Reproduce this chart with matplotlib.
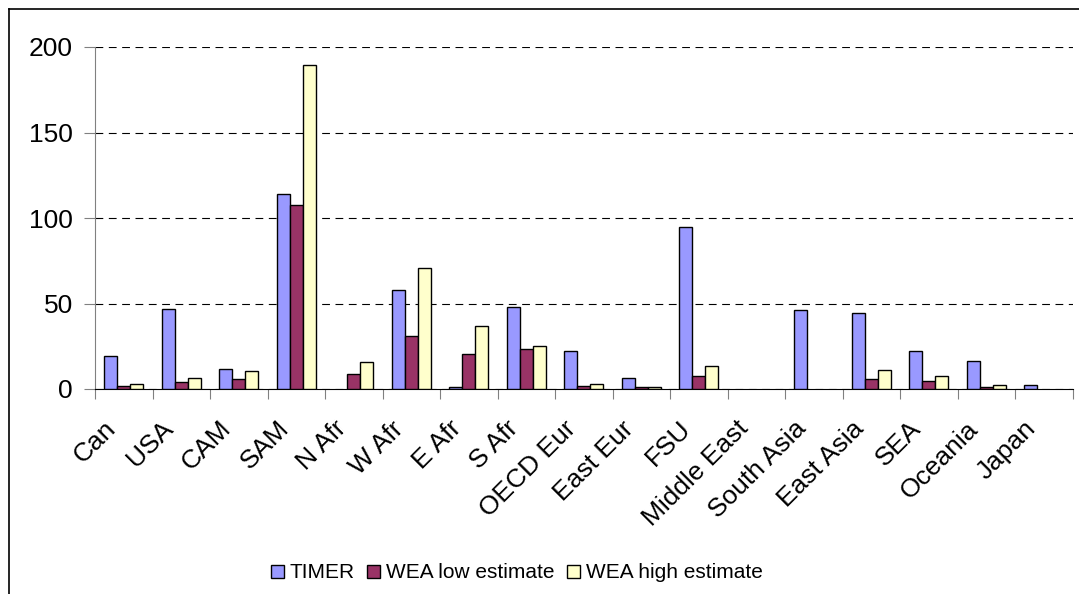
import matplotlib.pyplot as plt
import matplotlib.transforms as mtransforms
import numpy as np
from matplotlib.lines import Line2D

regions = ["Can", "USA", "CAM", "SAM", "N Afr", "W Afr", "E Afr", "S Afr",
           "OECD Eur", "East Eur", "FSU", "Middle East", "South Asia",
           "East Asia", "SEA", "Oceania", "Japan"]
timer = [19.2, 47, 11.5, 114, 0, 57.8, 1, 48.2, 22.3, 6.7, 94.7, 0, 46.3, 44.5, 22.3, 16.5, 2.1]
wea_low = [2, 4, 5.9, 107.5, 8.6, 31, 20.4, 23.1, 1.8, 1, 7.6, 0, 0, 5.9, 4.9, 1, 0]
wea_high = [3, 6.6, 10.8, 189.5, 15.5, 70.8, 36.7, 25.1, 2.9, 1, 13.5, 0, 0, 11, 7.6, 2.1, 0]

plt.rcParams['font.family'] = ['Liberation Sans', 'DejaVu Sans']

fig = plt.figure(figsize=(10.79, 5.94), dpi=100)
ax = fig.add_axes([95 / 1079, 1 - 389 / 594, (1072.5 - 95) / 1079, (389 - 47) / 594])

x = np.arange(len(regions))
w = 0.226
series = [(timer, '#9999FF', 'TIMER', -w),
          (wea_low, '#993366', 'WEA low estimate', 0),
          (wea_high, '#FFFFCC', 'WEA high estimate', w)]
for vals, col, lab, off in series:
    bars = ax.bar(x + off, vals, w, color=col, edgecolor='black', linewidth=1, label=lab, zorder=3)
    # Excel draws nothing for zero values
    for b in bars:
        if b.get_height() == 0:
            b.set_visible(False)

ax.set_xlim(-0.5, len(regions) - 0.5)
ax.set_ylim(0, 200)
ax.set_yticks([0, 50, 100, 150, 200])
ax.tick_params(axis='y', labelsize=19, length=8, color='#808080', pad=8)
ax.yaxis.grid(True, color='black', linestyle=(0, (7, 5)), linewidth=0.8)

# tick marks between categories, labels at centres
ax.set_xticks(np.arange(len(regions) + 1) - 0.5)
ax.set_xticklabels([])
ax.tick_params(axis='x', which='major', length=7, color='#808080')
ax.set_xticks(x, minor=True)
ax.set_xticklabels(regions, minor=True, rotation=45, ha='right', va='top',
                   rotation_mode='anchor', fontsize=19)
ax.tick_params(axis='x', which='minor', length=0, pad=4)
shift = mtransforms.ScaledTranslation(-20 / 100, -22 / 100, fig.dpi_scale_trans)
for t in ax.get_xticklabels(minor=True):
    t.set_transform(t.get_transform() + shift)

for s in ['top', 'right']:
    ax.spines[s].set_visible(False)
ax.spines['left'].set_color('#808080')
ax.spines['bottom'].set_color('black')

fig.legend(loc='center', bbox_to_anchor=(517 / 1079, 1 - 573 / 594), ncol=3,
           frameon=False, fontsize=15,
           handlelength=0.6, handleheight=0.6, handletextpad=0.3, columnspacing=0.6)

# outer chart border
fig.add_artist(Line2D([9 / 1079, 9 / 1079], [0, 1 - 9 / 594], color='black', linewidth=1.2))
fig.add_artist(Line2D([9 / 1079, 1], [1 - 9 / 594, 1 - 9 / 594], color='black', linewidth=1.2))

fig.savefig('out.png', dpi=100)
